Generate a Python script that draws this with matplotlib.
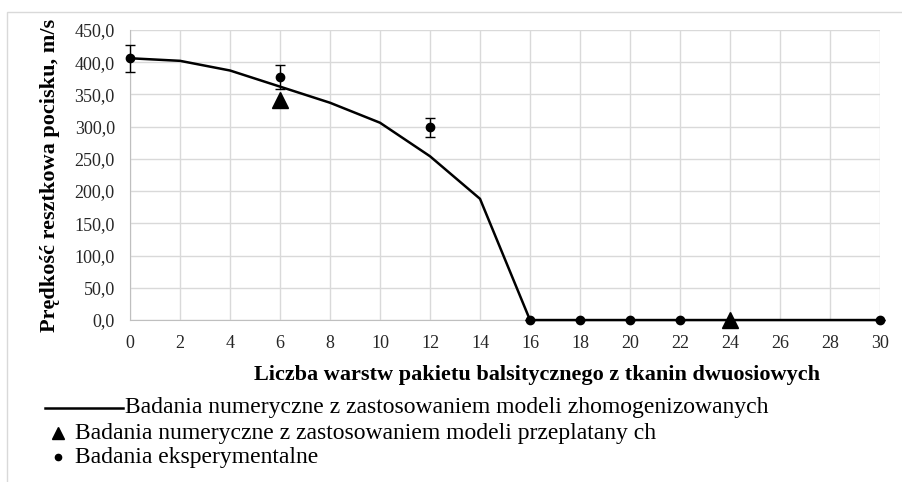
import matplotlib
matplotlib.use('Agg')
import matplotlib.pyplot as plt
from matplotlib.lines import Line2D
from matplotlib.patches import Rectangle
from matplotlib.ticker import FuncFormatter, MultipleLocator

# numerical results, homogenized models
num_x = [0, 2, 4, 6, 8, 10, 12, 14, 16, 18, 20, 22, 24, 26, 28, 30]
num_v = [406, 402, 387, 362, 337, 306, 254, 188, 0, 0, 0, 0, 0, 0, 0, 0]

# numerical results, interwoven models
tri_x = [6, 24]
tri_v = [341, 0]

# experiments
exp_x = [0, 6, 12, 16, 18, 20, 22, 30]
exp_v = [406, 377, 299, 0, 0, 0, 0, 0]
exp_err = [21, 18, 15, 0, 0, 0, 0, 0]

labels = ['Badania numeryczne z zastosowaniem modeli zhomogenizowanych',
          'Badania numeryczne z zastosowaniem modeli przeplatany ch',
          'Badania eksperymentalne']

plt.rcParams['font.family'] = ['Liberation Serif', 'DejaVu Serif']

fig = plt.figure(figsize=(9.03, 4.82), dpi=100)
ax = fig.add_axes([0.144, 0.336, 0.8305, 0.602])

# outer chart frame
fig.add_artist(Rectangle((7 / 903, -0.1), 1.2, 1 - 12 / 482 + 0.1, transform=fig.transFigure,
                         fill=False, edgecolor='#d9d9d9', linewidth=1))

ax.plot(num_x, num_v, color='black', linewidth=1.8, zorder=3, clip_on=False)
eb = ax.errorbar(exp_x, exp_v, yerr=exp_err, fmt='o', color='black', markersize=6,
                 elinewidth=1, capsize=3.5, capthick=1, zorder=4)
eb[0].set_clip_on(False)
for c in eb[1]:
    c.set_clip_on(False)
for c in eb[2]:
    c.set_clip_on(False)
ax.plot(tri_x, tri_v, '^', color='black', markersize=12, zorder=5, clip_on=False)

ax.set_xlim(0, 30)
ax.set_ylim(0, 450)
ax.xaxis.set_major_locator(MultipleLocator(2))
ax.yaxis.set_major_locator(MultipleLocator(50))
ax.yaxis.set_major_formatter(FuncFormatter(lambda v, p: f'{v:.1f}'.replace('.', ',')))
ax.grid(True, color='#d9d9d9', linewidth=1)
ax.set_axisbelow(True)
for s in ['top', 'right']:
    ax.spines[s].set_visible(False)
for s in ['left', 'bottom']:
    ax.spines[s].set_color('#bfbfbf')
ax.tick_params(length=0, labelsize=13, pad=11, colors='#262626')

ax.set_ylabel('Prędkość resztkowa pocisku, m/s', fontsize=16, fontweight='bold')
ax.set_xlabel('Liczba warstw pakietu balsitycznego z tkanin dwuosiowych',
              fontsize=16, fontweight='bold')
ax.yaxis.set_label_coords(-0.1067, 0.5)
ax.xaxis.set_label_coords(0.543, -0.19)
ax.xaxis.label.set_va('center')
ax.yaxis.label.set_va('center')

# legend drawn below the chart
W, H = 903, 482
ys = [408, 433, 457]
fig.add_artist(Line2D([45 / W, 123 / W], [1 - ys[0] / H] * 2, color='black', linewidth=1.8,
                      transform=fig.transFigure))
fig.add_artist(Line2D([58 / W], [1 - ys[1] / H], marker='^', color='black', markersize=8,
                      linestyle='none', transform=fig.transFigure))
fig.add_artist(Line2D([58 / W], [1 - ys[2] / H], marker='o', color='black', markersize=4.5,
                      linestyle='none', transform=fig.transFigure))
for i, lab in enumerate(labels):
    x0 = 125 if i == 0 else 75
    fig.text(x0 / W, 1 - ys[i] / H, lab, fontsize=17, va='center', ha='left')

fig.savefig('out.png', dpi=100)
